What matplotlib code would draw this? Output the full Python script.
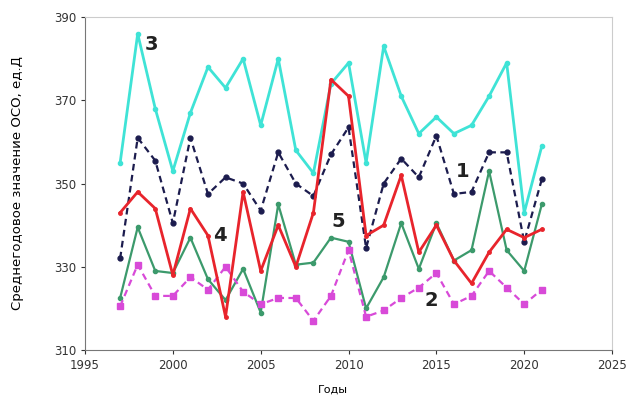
import matplotlib
matplotlib.use("Agg")
import matplotlib.pyplot as plt

years = list(range(1997, 2022))

series1 = [332, 361, 355.5, 340.5, 361, 347.5, 351.5, 350, 343.5, 357.5, 350, 347,
           357, 363.5, 334.5, 350, 356, 351.5, 361.5, 347.5, 348, 357.5, 357.5, 336, 351]
series2 = [320.5, 330.5, 323, 323, 327.5, 324.5, 330, 324, 321, 322.5, 322.5, 317,
           323, 334, 318, 319.5, 322.5, 325, 328.5, 321, 323, 329, 325, 321, 324.5]
series3 = [355, 386, 368, 353, 367, 378, 373, 380, 364, 380, 358, 352.5,
           374, 379, 355, 383, 371, 362, 366, 362, 364, 371, 379, 343, 359]
series4 = [343, 348, 344, 328, 344, 337.5, 318, 348, 329, 340, 330, 343,
           375, 371, 337.5, 340, 352, 333.5, 340, 331.5, 326, 333.5, 339, 337, 339]
series5 = [322.5, 339.5, 329, 328.5, 337, 327, 322, 329.5, 319, 345, 330.5, 331,
           337, 336, 320, 327.5, 340.5, 329.5, 340.5, 331.5, 334, 353, 334, 329, 345]

labels = ["1", "2", "3", "4", "5"]
label_pos = [(2016.5, 353), (2014.7, 322), (1998.8, 383.5), (2002.7, 337.5), (2009.4, 341)]

fig = plt.figure(figsize=(6.31, 3.98), dpi=100)
ax = fig.add_axes([0.1347, 0.1206, 0.8353, 0.8364])

ax.plot(years, series3, color="#3fe3d6", lw=2.0, marker="o", ms=3, zorder=2)
ax.plot(years, series1, color="#1c1c4e", lw=1.6, ls=(0, (3, 2)), marker="o", ms=3.5, zorder=3)
ax.plot(years, series4, color="#e8242c", lw=2.0, marker="o", ms=2.5, zorder=4)
ax.plot(years, series5, color="#3c9a6c", lw=1.6, marker="o", ms=3, zorder=3)
ax.plot(years, series2, color="#d84ad8", lw=1.6, ls=(0, (3, 2)), marker="s", ms=4, zorder=3)

for lab, (x, y) in zip(labels, label_pos):
    ax.text(x, y, lab, fontsize=14, fontweight="bold", color="#222222", ha="center", va="center", zorder=6)

ax.set_xlim(1995, 2025)
ax.set_ylim(310, 390)
ax.set_xticks([1995, 2000, 2005, 2010, 2015, 2020, 2025])
ax.set_yticks([310, 330, 350, 370, 390])
ax.tick_params(labelsize=8.5, length=3, colors="#333333")
for s in ["top", "right"]:
    ax.spines[s].set_color("#cccccc")
for s in ["left", "bottom"]:
    ax.spines[s].set_color("#777777")

ax.set_ylabel("Среднегодовое значение ОСО, ед.Д", fontsize=9.5)
ax.yaxis.set_label_coords(-0.115, 0.5)
ax.set_xlabel("Годы", fontsize=8)
ax.xaxis.set_label_coords(0.47, -0.105)

fig.savefig("out.png", dpi=100)
